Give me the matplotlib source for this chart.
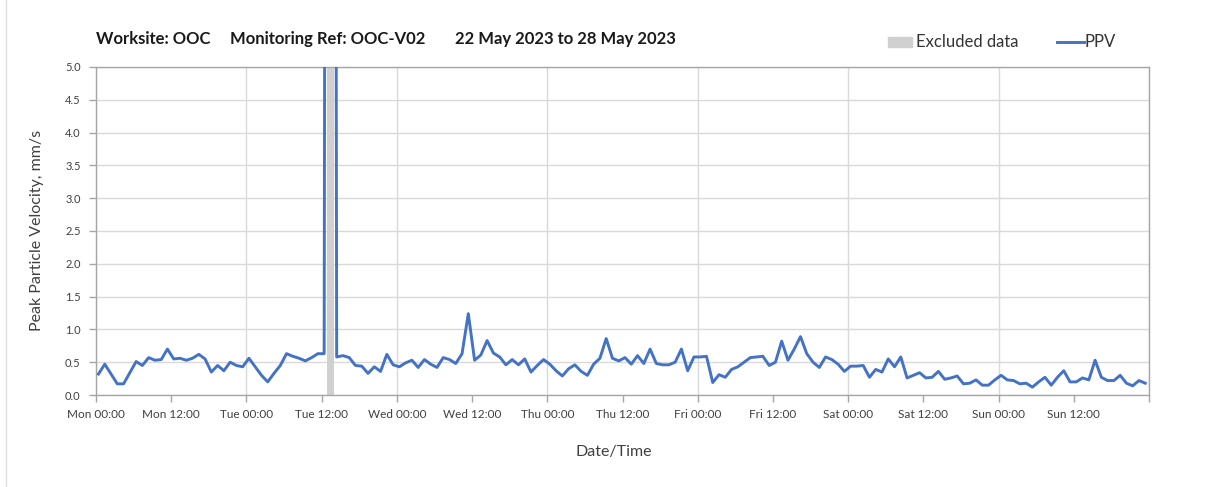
import numpy as np
import pandas as pd
import matplotlib
matplotlib.use("Agg")
import matplotlib.pyplot as plt
import matplotlib.dates as mdates
from matplotlib.patches import Rectangle
from matplotlib.lines import Line2D

plt.rcParams["font.family"] = ["Lato", "DejaVu Sans"]

# hourly peak particle velocity, mm/s (Mon 22 May 2023 -> Sun 28 May 2023)
ppv = [
    0.32, 0.47, 0.32, 0.17, 0.17, 0.34, 0.51, 0.45, 0.57, 0.53,
    0.54, 0.70, 0.55, 0.56, 0.53, 0.56, 0.62, 0.55, 0.35, 0.45,
    0.37, 0.50, 0.45, 0.43, 0.56, 0.43, 0.30, 0.20, 0.33, 0.45,
    0.63, 0.59, 0.56, 0.52, 0.57, 0.63, 0.63, 60.0, 0.58, 0.60,
    0.57, 0.45, 0.44, 0.33, 0.43, 0.36, 0.62, 0.46, 0.43, 0.49,
    0.53, 0.42, 0.54, 0.47, 0.42, 0.57, 0.54, 0.48, 0.63, 1.24,
    0.53, 0.61, 0.83, 0.64, 0.58, 0.46, 0.54, 0.46, 0.55, 0.35,
    0.45, 0.54, 0.47, 0.37, 0.29, 0.40, 0.46, 0.36, 0.30, 0.47,
    0.56, 0.86, 0.56, 0.52, 0.57, 0.47, 0.60, 0.48, 0.70, 0.48,
    0.46, 0.46, 0.50, 0.70, 0.37, 0.58, 0.58, 0.59, 0.19, 0.31,
    0.27, 0.39, 0.43, 0.50, 0.57, 0.58, 0.59, 0.45, 0.50, 0.82,
    0.53, 0.70, 0.89, 0.63, 0.50, 0.42, 0.58, 0.54, 0.47, 0.36,
    0.44, 0.44, 0.45, 0.27, 0.39, 0.35, 0.55, 0.43, 0.58, 0.26,
    0.30, 0.34, 0.26, 0.27, 0.36, 0.24, 0.26, 0.29, 0.17, 0.18,
    0.23, 0.15, 0.15, 0.23, 0.30, 0.23, 0.22, 0.17, 0.18, 0.12,
    0.20, 0.27, 0.15, 0.27, 0.37, 0.20, 0.20, 0.26, 0.23, 0.53,
    0.27, 0.22, 0.22, 0.30, 0.18, 0.14, 0.22, 0.18,
]
first_reading = "2023-05-22 00:24"
excluded_times = ["2023-05-23 13:24"]
excluded_level = [5.0]

period_start = "2023-05-22 00:00"
period_end = "2023-05-29 00:00"
title_parts = ["Worksite: OOC", "Monitoring Ref: OOC-V02", "22 May 2023 to 28 May 2023"]

times = pd.date_range(first_reading, periods=len(ppv), freq="h")
excl = pd.to_datetime(excluded_times)

W, H = 1208, 487
fig = plt.figure(figsize=(W / 100, H / 100), dpi=100)
ax = fig.add_axes([96 / W, 1 - 395 / H, (1149 - 96) / W, (395 - 67) / H])

ax.bar(excl, excluded_level, width=1 / 24, color="#d0d0d0", zorder=1)
ax.plot(times, ppv, color="#4472c4", lw=2.1, zorder=3)

ax.set_xlim(pd.Timestamp(period_start), pd.Timestamp(period_end))
ax.set_ylim(0, 5.0)
ax.set_yticks(np.arange(0, 5.01, 0.5))
ax.yaxis.set_major_formatter(matplotlib.ticker.FormatStrFormatter("%.1f"))

ax.xaxis.set_major_locator(mdates.HourLocator(byhour=[0, 12]))
ax.xaxis.set_major_formatter(mdates.DateFormatter("%a %H:%M"))
ax.xaxis.set_minor_locator(mdates.DayLocator())
ax.xaxis.remove_overlapping_locs = False

ax.grid(axis="y", color="#d9d9d9", lw=1.0, zorder=0)
ax.grid(axis="x", which="minor", color="#d9d9d9", lw=1.0, zorder=0)
ax.set_axisbelow(True)
for s in ax.spines.values():
    s.set_color("#a6a6a6")
    s.set_linewidth(1.0)
ax.tick_params(axis="both", which="major", colors="#a6a6a6", labelcolor="#404040",
               labelsize=8.5, length=5, width=1.0)
ax.tick_params(axis="x", which="minor", length=0)
ax.tick_params(axis="y", labelsize=8, pad=6)
ax.tick_params(axis="x", pad=5)
# last tick (Mon 00:00 at the right edge) carries no label
fig.canvas.draw()
tl = ax.get_xticklabels()
if len(tl) > 14:
    tl[-1].set_visible(False)

# title
xs = [96, 230, 455]
for x, t in zip(xs, title_parts):
    fig.text(x / W, 1 - 39 / H, t, fontsize=12, fontweight="bold", color="#1a1a1a", va="center")

# legend
fig.patches.append(Rectangle((888 / W, 1 - 47 / H), 24 / W, 10 / H, transform=fig.transFigure,
                             color="#d0d0d0", figure=fig))
fig.text(916 / W, 1 - 42 / H, "Excluded data", fontsize=12, color="#333333", va="center")
fig.lines.append(Line2D([1057 / W, 1084 / W], [1 - 42 / H, 1 - 42 / H], transform=fig.transFigure,
                        color="#4472c4", lw=2.1, figure=fig))
fig.text(1085 / W, 1 - 42 / H, "PPV", fontsize=12, color="#333333", va="center")

# axis labels
fig.text(37 / W, 1 - 230 / H, "Peak Particle Velocity, mm/s", rotation=90, fontsize=11.5,
         color="#404040", ha="center", va="center")
fig.text(614 / W, 1 - 452 / H, "Date/Time", fontsize=11.5, color="#404040", ha="center", va="center")

# thin frame line at left edge of the image
fig.lines.append(Line2D([6 / W, 6 / W], [0, 1], transform=fig.transFigure, color="#e0e0e0",
                        lw=1.0, figure=fig))

fig.savefig("out.png", dpi=100)
